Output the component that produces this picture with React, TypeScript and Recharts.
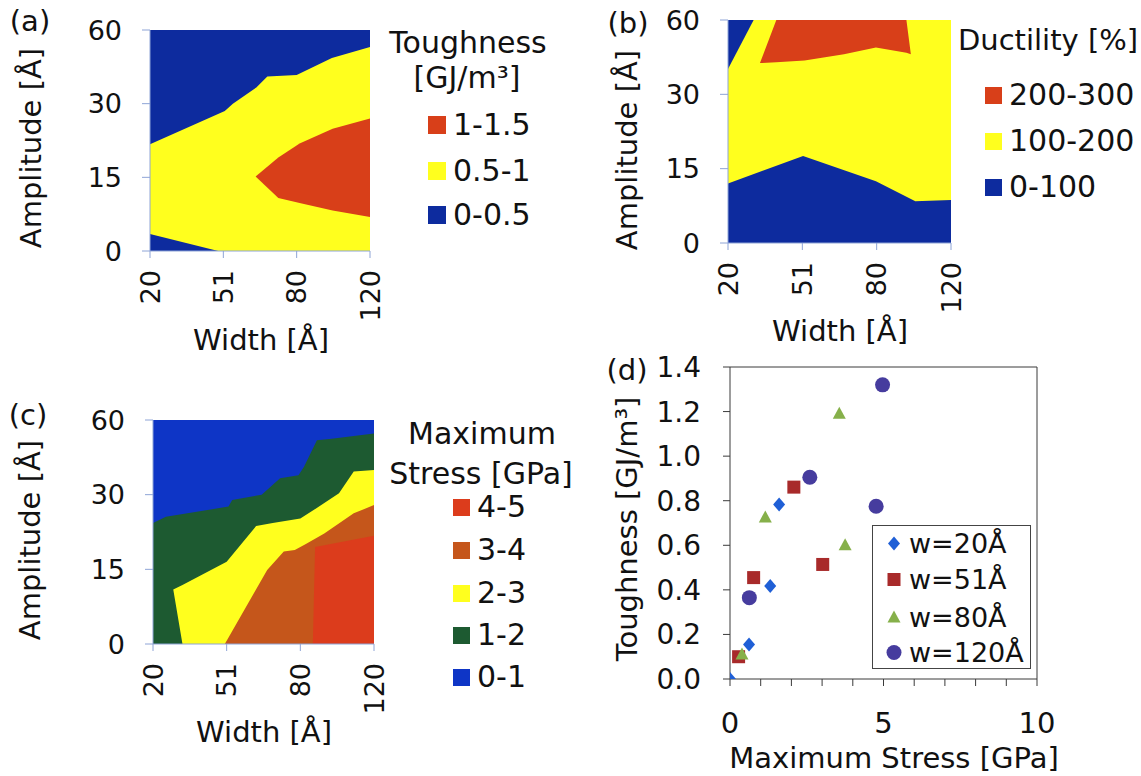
import React from 'react'
import { ComposedChart, Area, Scatter, XAxis, YAxis, ReferenceLine } from 'recharts'

const FONT = '"DejaVu Sans", sans-serif'
const INK = '#111'

// shared grid of the contour maps (axis positions are category indexes)
const widthLabels = ['20', '51', '80', '120']
const amplitudeLabels = ['0', '15', '30', '60']
const gridTicks = [0, 1, 2, 3]

// (a) toughness regions, x/y in grid index units
const toughBase = [{ x: 0, y: 3 }, { x: 3, y: 3 }]
const toughMid = [
  { x: 0, y: 1.45 }, { x: 1.02, y: 1.9 }, { x: 1.13, y: 2.0 }, { x: 1.45, y: 2.22 },
  { x: 1.6, y: 2.37 }, { x: 2.0, y: 2.39 }, { x: 2.48, y: 2.62 }, { x: 3, y: 2.77 },
]
const toughCorner = [{ x: 0, y: 0.23 }, { x: 0.93, y: 0 }]
const toughHigh = [
  { x: 1.44, lo: 1.01, hi: 1.01 }, { x: 1.75, lo: 0.72, hi: 1.27 }, { x: 2.04, lo: 0.65, hi: 1.46 },
  { x: 2.49, lo: 0.55, hi: 1.66 }, { x: 3, lo: 0.46, hi: 1.8 },
]

// (b) ductility regions
const ductBase = [{ x: 0, y: 3 }, { x: 3, y: 3 }]
const ductCorner = [{ x: 0, lo: 2.34, hi: 3 }, { x: 0.345, lo: 3, hi: 3 }]
const ductHigh = [
  { x: 0.43, lo: 2.42, hi: 2.42 }, { x: 0.65, lo: 2.43, hi: 3 }, { x: 1.03, lo: 2.455, hi: 3 },
  { x: 1.56, lo: 2.54, hi: 3 }, { x: 1.99, lo: 2.63, hi: 3 }, { x: 2.4, lo: 2.56, hi: 3 },
  { x: 2.46, lo: 2.54, hi: 2.54 },
]
const ductLow = [
  { x: 0, y: 0.8 }, { x: 1.01, y: 1.17 }, { x: 1.99, y: 0.83 }, { x: 2.52, y: 0.56 }, { x: 3, y: 0.58 },
]

// (c) maximum stress regions
const stressBase = [{ x: 0, y: 3 }, { x: 3, y: 3 }]
const stress12 = [
  { x: 0, y: 1.62 }, { x: 0.175, y: 1.705 }, { x: 1.025, y: 1.84 }, { x: 1.075, y: 1.93 },
  { x: 1.475, y: 2.0 }, { x: 1.725, y: 2.22 }, { x: 1.975, y: 2.26 }, { x: 2.05, y: 2.375 },
  { x: 2.225, y: 2.73 }, { x: 2.425, y: 2.75 }, { x: 3, y: 2.82 },
]
const stress23 = [
  { x: 0.275, lo: 0.73, hi: 0.73 }, { x: 0.4, lo: 0, hi: 0.79 }, { x: 1.0, lo: 0, hi: 1.1 },
  { x: 1.4, lo: 0, hi: 1.58 }, { x: 1.625, lo: 0, hi: 1.62 }, { x: 1.875, lo: 0, hi: 1.66 },
  { x: 2.0, lo: 0, hi: 1.68 }, { x: 2.175, lo: 0, hi: 1.79 }, { x: 2.525, lo: 0, hi: 2.02 },
  { x: 2.725, lo: 0, hi: 2.31 }, { x: 3, lo: 0, hi: 2.33 },
]
const stress34 = [
  { x: 0.975, y: 0 }, { x: 1.55, y: 0.99 }, { x: 1.775, y: 1.24 }, { x: 1.925, y: 1.26 },
  { x: 2.075, y: 1.34 }, { x: 2.325, y: 1.48 }, { x: 2.725, y: 1.75 }, { x: 3, y: 1.86 },
]
const stress45 = [{ x: 2.17, y: 0 }, { x: 2.2, y: 1.3 }, { x: 3, y: 1.45 }]

// (d) toughness vs maximum stress
const w20 = [{ x: 0, y: 0 }, { x: 0.62, y: 0.155 }, { x: 1.31, y: 0.417 }, { x: 1.6, y: 0.783 }]
const w51 = [{ x: 0.28, y: 0.1 }, { x: 0.77, y: 0.455 }, { x: 2.08, y: 0.861 }, { x: 3.02, y: 0.514 }]
const w80 = [{ x: 0.39, y: 0.11 }, { x: 1.15, y: 0.725 }, { x: 3.56, y: 1.19 }, { x: 3.75, y: 0.6 }]
const w120 = [{ x: 0.63, y: 0.365 }, { x: 2.6, y: 0.905 }, { x: 4.76, y: 0.775 }, { x: 4.97, y: 1.32 }]
const stressTicks = [0, 1, 2, 3, 4, 5, 6, 7, 8, 9, 10]
const toughTicks = [0, 0.2, 0.4, 0.6, 0.8, 1.0, 1.2, 1.4]

const BLUE_A = '#0d2b9e'
const BLUE_C = '#0e35c6'
const YELLOW = '#ffff1e'
const RED = '#d83f19'
const ORANGE = '#c5561b'
const GREEN = '#1d5a31'

const toughLegend = [
  { label: '1-1.5', color: RED },
  { label: '0.5-1', color: YELLOW },
  { label: '0-0.5', color: BLUE_A },
]
const ductLegend = [
  { label: '200-300', color: RED },
  { label: '100-200', color: YELLOW },
  { label: '0-100', color: BLUE_A },
]
const stressLegend = [
  { label: '4-5', color: '#dc3c1c' },
  { label: '3-4', color: ORANGE },
  { label: '2-3', color: YELLOW },
  { label: '1-2', color: GREEN },
  { label: '0-1', color: BLUE_C },
]

type Layer = { color: string; points: any[]; band?: boolean }

const WidthTick = (props: any) => {
  const { x, y, payload } = props
  return (
    <text
      x={x}
      y={y}
      transform={`rotate(-90 ${x} ${y})`}
      textAnchor="end"
      dominantBaseline="central"
      fontSize={27}
      fontFamily={FONT}
      fill={INK}
    >
      {widthLabels[payload.value]}
    </text>
  )
}

function ContourPanel({ plot, layers }: { plot: { x: number; y: number; w: number; h: number }; layers: Layer[] }) {
  const padL = 110
  const padT = 20
  const padR = 25
  const padB = 90
  const axisColor = '#8ea4d6'
  return (
    <div style={{ position: 'absolute', left: plot.x - padL, top: plot.y - padT }}>
      <ComposedChart width={plot.w + padL + padR} height={plot.h + padT + padB} margin={{ top: padT, right: padR, bottom: 0, left: 0 }}>
        {layers.map((l, i) => (
          <Area
            key={i}
            data={l.points}
            dataKey={l.band ? (d: any) => [d.lo, d.hi] : 'y'}
            type="linear"
            stroke="none"
            fill={l.color}
            fillOpacity={1}
            dot={false}
            activeDot={false}
            isAnimationActive={false}
          />
        ))}
        <XAxis
          type="number"
          dataKey="x"
          domain={[0, 3]}
          ticks={gridTicks}
          height={padB}
          tickSize={7}
          tickMargin={12}
          tick={<WidthTick />}
          axisLine={{ stroke: axisColor }}
          tickLine={{ stroke: axisColor }}
          allowDataOverflow
        />
        <YAxis
          type="number"
          domain={[0, 3]}
          ticks={gridTicks}
          width={padL}
          tickSize={8}
          tickMargin={20}
          tickFormatter={(v) => amplitudeLabels[v]}
          tick={{ fontSize: 27, fill: INK, fontFamily: FONT }}
          axisLine={{ stroke: axisColor }}
          tickLine={{ stroke: axisColor }}
          allowDataOverflow
        />
      </ComposedChart>
    </div>
  )
}

function Txt({ x, y, size = 30, rotate = false, children }: { x: number; y: number; size?: number; rotate?: boolean; children: React.ReactNode }) {
  return (
    <div
      style={{
        position: 'absolute',
        left: x,
        top: y,
        transform: `translate(-50%, -50%)${rotate ? ' rotate(-90deg)' : ''}`,
        fontSize: size,
        fontFamily: FONT,
        lineHeight: 1,
        whiteSpace: 'nowrap',
        color: INK,
      }}
    >
      {children}
    </div>
  )
}

function SwatchLegend({ x, rows, items, square = 17 }: { x: number; rows: number[]; items: { label: string; color: string }[]; square?: number }) {
  return (
    <>
      {items.map((it, i) => (
        <div key={it.label} style={{ position: 'absolute', left: x, top: rows[i], transform: 'translateY(-50%)', display: 'flex', alignItems: 'center' }}>
          <div style={{ width: square, height: square, background: it.color, marginRight: 7 }} />
          <span style={{ fontSize: 30, fontFamily: FONT, lineHeight: 1, color: INK }}>{it.label}</span>
        </div>
      ))}
    </>
  )
}

const Diamond = (p: any) => <polygon points={`${p.cx},${p.cy - 7} ${p.cx + 6},${p.cy} ${p.cx},${p.cy + 7} ${p.cx - 6},${p.cy}`} fill="#1f5fd6" />
const Square = (p: any) => <rect x={p.cx - 6.5} y={p.cy - 6.5} width={13} height={13} fill="#a82a2a" />
const Triangle = (p: any) => <polygon points={`${p.cx},${p.cy - 7} ${p.cx + 6.5},${p.cy + 5} ${p.cx - 6.5},${p.cy + 5}`} fill="#86b04a" />
const Circle = (p: any) => <circle cx={p.cx} cy={p.cy} r={7.5} fill="#463c9e" />

const scatterSeries = [
  { name: 'w=20Å', data: w20, shape: Diamond },
  { name: 'w=51Å', data: w51, shape: Square },
  { name: 'w=80Å', data: w80, shape: Triangle },
  { name: 'w=120Å', data: w120, shape: Circle },
]

function ScatterPanel() {
  const plot = { x: 730, y: 367, w: 307, h: 312 }
  const padL = 100
  const padT = 25
  const padR = 25
  const padB = 80
  const axis = '#3a3a3a'
  return (
    <div style={{ position: 'absolute', left: plot.x - padL, top: plot.y - padT }}>
      <ComposedChart width={plot.w + padL + padR} height={plot.h + padT + padB} margin={{ top: padT, right: padR, bottom: 0, left: 0 }}>
        <XAxis
          type="number"
          dataKey="x"
          domain={[0, 10]}
          ticks={stressTicks}
          interval={0}
          height={padB}
          tickSize={7}
          tickMargin={26}
          tickFormatter={(v) => (v % 5 === 0 ? String(v) : '')}
          tick={{ fontSize: 29, fill: INK, fontFamily: FONT }}
          axisLine={{ stroke: axis }}
          tickLine={{ stroke: axis }}
          allowDataOverflow
        />
        <YAxis
          type="number"
          dataKey="y"
          domain={[0, 1.4]}
          ticks={toughTicks}
          interval={0}
          width={padL}
          tickSize={7}
          tickMargin={22}
          tickFormatter={(v) => v.toFixed(1)}
          tick={{ fontSize: 28, fill: INK, fontFamily: FONT }}
          axisLine={{ stroke: axis }}
          tickLine={{ stroke: axis }}
          allowDataOverflow
        />
        <ReferenceLine y={1.4} stroke={axis} />
        <ReferenceLine x={10} stroke={axis} />
        {scatterSeries.map((s) => (
          <Scatter key={s.name} name={s.name} data={s.data} dataKey="y" shape={s.shape} isAnimationActive={false} />
        ))}
      </ComposedChart>
    </div>
  )
}

export default function App() {
  const legendRows = [543, 579, 617, 652]
  return (
    <div style={{ position: 'absolute', left: 0, top: 0, width: 1141, height: 776, background: '#fff', overflow: 'hidden' }}>
      {/* (a) */}
      <ContourPanel
        plot={{ x: 150, y: 30, w: 220, h: 221 }}
        layers={[
          { color: BLUE_A, points: toughBase },
          { color: YELLOW, points: toughMid },
          { color: BLUE_A, points: toughCorner },
          { color: RED, points: toughHigh, band: true },
        ]}
      />
      <Txt x={30} y={21} size={29}>(a)</Txt>
      <Txt x={31} y={148} size={29} rotate>Amplitude [Å]</Txt>
      <Txt x={261} y={340} size={29}>Width [Å]</Txt>
      <Txt x={468} y={43}>Toughness</Txt>
      <Txt x={467} y={78}>[GJ/m³]</Txt>
      <SwatchLegend x={428} rows={[125, 171, 215]} items={toughLegend} square={18} />

      {/* (b) */}
      <ContourPanel
        plot={{ x: 728, y: 20, w: 223, h: 223 }}
        layers={[
          { color: YELLOW, points: ductBase },
          { color: BLUE_A, points: ductCorner, band: true },
          { color: RED, points: ductHigh, band: true },
          { color: BLUE_A, points: ductLow },
        ]}
      />
      <Txt x={628} y={23} size={29}>(b)</Txt>
      <Txt x={627} y={150} size={29} rotate>Amplitude [Å]</Txt>
      <Txt x={840} y={331} size={29}>Width [Å]</Txt>
      <Txt x={1048} y={40} size={29}>Ductility [%]</Txt>
      <SwatchLegend x={985} rows={[95, 141, 187]} items={ductLegend} />

      {/* (c) */}
      <ContourPanel
        plot={{ x: 153, y: 420, w: 221, h: 224 }}
        layers={[
          { color: BLUE_C, points: stressBase },
          { color: GREEN, points: stress12 },
          { color: YELLOW, points: stress23, band: true },
          { color: ORANGE, points: stress34 },
          { color: '#dc3c1c', points: stress45 },
        ]}
      />
      <Txt x={28} y={415} size={29}>(c)</Txt>
      <Txt x={30} y={540} size={29} rotate>Amplitude [Å]</Txt>
      <Txt x={264} y={732} size={29}>Width [Å]</Txt>
      <Txt x={482} y={434}>Maximum</Txt>
      <Txt x={481} y={474}>Stress [GPa]</Txt>
      <SwatchLegend x={453} rows={[507, 550, 593, 635, 677]} items={stressLegend} />

      {/* (d) */}
      <ScatterPanel />
      <Txt x={627} y={370} size={29}>(d)</Txt>
      <Txt x={627} y={529} size={29} rotate>Toughness [GJ/m³]</Txt>
      <Txt x={894} y={758} size={29}>Maximum Stress [GPa]</Txt>
      <div style={{ position: 'absolute', left: 872, top: 525, width: 157, height: 142, border: '1px solid #444', background: '#fff' }} />
      {scatterSeries.map((s, i) => (
        <div key={s.name} style={{ position: 'absolute', left: 884, top: legendRows[i], transform: 'translateY(-50%)', display: 'flex', alignItems: 'center' }}>
          <svg width={20} height={18}>
            {s.shape({ cx: 10, cy: 9 })}
          </svg>
          <span style={{ marginLeft: 5, fontSize: 27, fontFamily: FONT, lineHeight: 1, color: INK }}>{s.name}</span>
        </div>
      ))}
    </div>
  )
}
